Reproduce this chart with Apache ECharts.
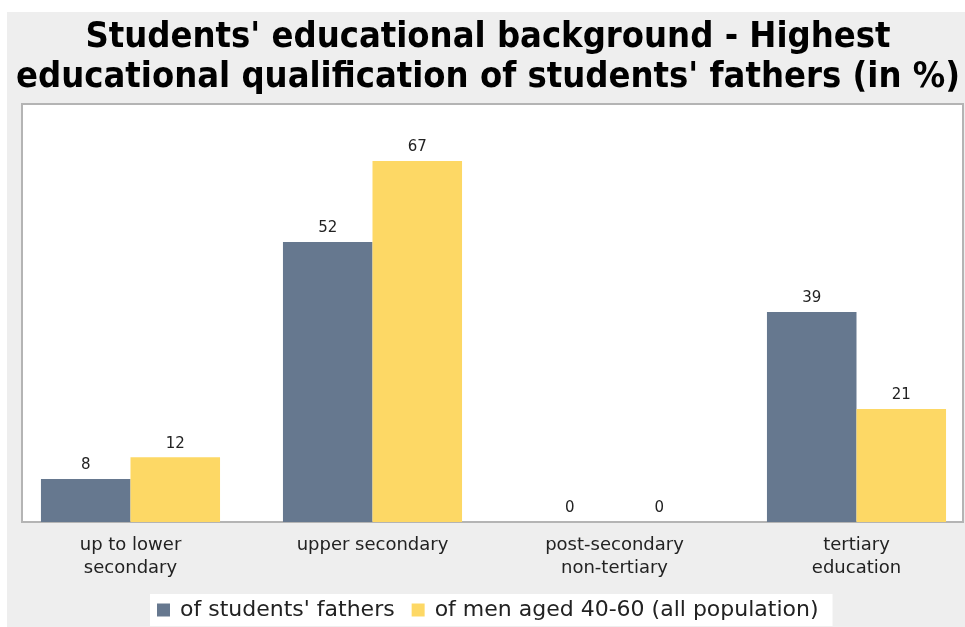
<!DOCTYPE html>
<html>
<head>
<meta charset="utf-8">
<script src="https://cdn.jsdelivr.net/npm/echarts@6/dist/echarts.min.js"></script>
<style>
  html, body { margin: 0; padding: 0; background: #ffffff; }
  #chart { width: 965px; height: 627px; }
</style>
</head>
<body>
<div id="chart"></div>
<script>
// Education levels along the x axis
const categories = [
  'up to lower\nsecondary',
  'upper secondary',
  'post-secondary\nnon-tertiary',
  'tertiary\neducation'
];
// Share (in %) per education level
const fathersValues = [8, 52, 0, 39];
const menAgedValues = [12, 67, 0, 21];
const seriesNames = ["of students' fathers", 'of men aged 40-60 (all population)'];

const chart = echarts.init(document.getElementById('chart'), null, { renderer: 'canvas' });

const labelStyle = {
  show: true,
  position: 'top',
  distance: 6,
  color: '#222',
  fontFamily: 'DejaVu Sans',
  fontSize: 15
};

chart.setOption({
  backgroundColor: '#ffffff',
  animation: false,
  graphic: [
    // grey chart panel
    { type: 'rect', z: -10, shape: { x: 7, y: 12, width: 958, height: 615 }, style: { fill: '#eeeeee' } },
    // white plot area with frame
    { type: 'rect', z: -5, shape: { x: 22, y: 104, width: 941, height: 418 }, style: { fill: '#ffffff', stroke: '#b4b4b4', lineWidth: 2 } }
  ],
  title: {
    text: "Students' educational background - Highest\neducational qualification of students' fathers (in %)",
    left: 483,
    textAlign: 'center',
    top: 13,
    textStyle: {
      fontFamily: "'DejaVu Sans Condensed', 'DejaVu Sans'",
      fontWeight: 'bold',
      fontSize: 36,
      lineHeight: 40,
      color: '#000'
    }
  },
  legend: {
    bottom: 1,
    left: 150,
    icon: 'rect',
    itemWidth: 13,
    itemHeight: 13,
    itemGap: 17,
    backgroundColor: '#ffffff',
    padding: [5, 14, 5, 7],
    textStyle: { fontFamily: 'DejaVu Sans', fontSize: 22, color: '#222', padding: [0, 0, 0, 5] },
    data: seriesNames
  },
  grid: { left: 9.5, width: 968, top: 104, bottom: 105, outerBoundsMode: 'none', containLabel: false },
  xAxis: {
    type: 'category',
    data: categories,
    axisLine: { show: false },
    axisTick: { show: false },
    axisLabel: {
      margin: 12,
      color: '#222',
      fontFamily: 'DejaVu Sans',
      fontSize: 18,
      lineHeight: 23
    }
  },
  yAxis: {
    type: 'value',
    min: 0,
    max: 77.6,
    show: false,
    splitLine: { show: false }
  },
  series: [
    {
      name: seriesNames[0],
      type: 'bar',
      data: fathersValues,
      barGap: '0%',
      barCategoryGap: '26%',
      itemStyle: { color: '#66788f' },
      label: labelStyle
    },
    {
      name: seriesNames[1],
      type: 'bar',
      data: menAgedValues,
      barGap: '0%',
      barCategoryGap: '26%',
      itemStyle: { color: '#fdd865' },
      label: labelStyle
    }
  ]
});
</script>
</body>
</html>
